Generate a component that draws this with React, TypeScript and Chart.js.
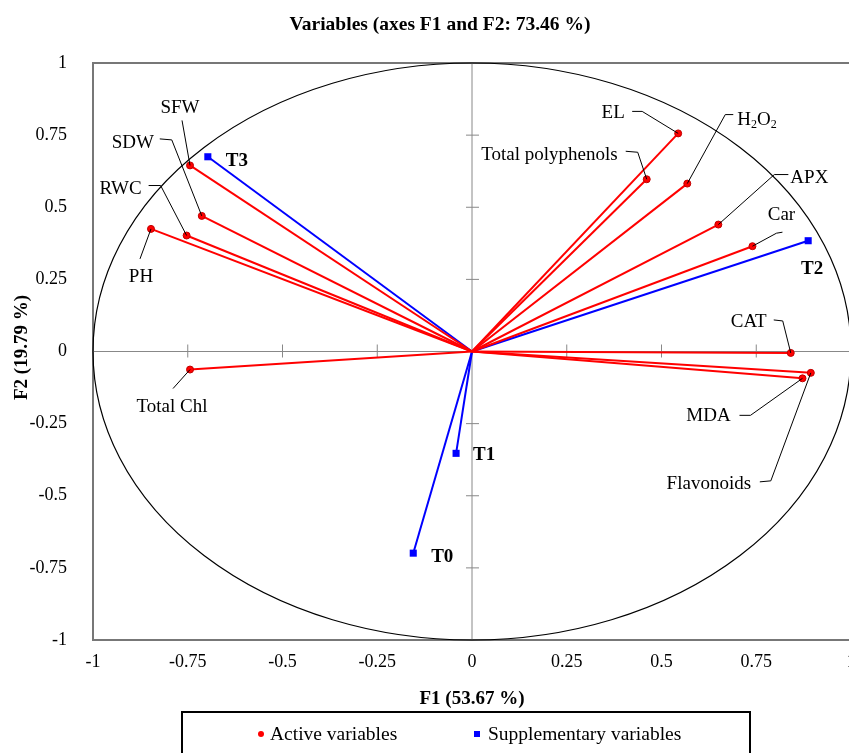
import { useEffect, useRef } from 'react';
import { Chart, registerables } from 'chart.js';

Chart.register(...registerables);

const TITLE = 'Variables (axes F1 and F2: 73.46 %)';
const X_TITLE = 'F1 (53.67 %)';
const Y_TITLE = 'F2 (19.79 %)';
const AXIS_TICKS = [-1, -0.75, -0.5, -0.25, 0, 0.25, 0.5, 0.75, 1];

const ACTIVE_NAMES = ['EL', 'Total polyphenols', 'H2O2', 'APX', 'Car', 'CAT', 'Flavonoids', 'MDA', 'SFW', 'SDW', 'RWC', 'PH', 'Total Chl'];
const ACTIVE_F1 = [0.544, 0.461, 0.568, 0.65, 0.74, 0.841, 0.894, 0.872, -0.744, -0.713, -0.753, -0.847, -0.744];
const ACTIVE_F2 = [0.756, 0.597, 0.582, 0.44, 0.365, -0.005, -0.074, -0.093, 0.645, 0.47, 0.402, 0.425, -0.0625];

const SUPP_NAMES = ['T0', 'T1', 'T2', 'T3'];
const SUPP_F1 = [-0.155, -0.042, 0.887, -0.697];
const SUPP_F2 = [-0.699, -0.353, 0.384, 0.675];

const LEGEND_LABELS = ['Active variables', 'Supplementary variables'];

// label placement (pixel offsets from the point), styling only
type Lay = { dx: number; dy: number; align: CanvasTextAlign; leader?: number[][] };
const LABEL_LAYOUT: Record<string, Lay> = {
  EL: { dx: -65, dy: -20, align: 'center', leader: [[-46, -22], [-36, -22]] },
  'Total polyphenols': { dx: -29, dy: -24, align: 'right', leader: [[-21, -28], [-9, -27]] },
  H2O2: { dx: 50, dy: -64, align: 'left', leader: [[46, -69], [38, -69]] },
  APX: { dx: 72, dy: -47, align: 'left', leader: [[70, -50], [56, -50]] },
  Car: { dx: 29, dy: -31, align: 'center', leader: [[30, -14], [24, -13]] },
  CAT: { dx: -42, dy: -31, align: 'center', leader: [[-17, -33], [-8, -32]] },
  Flavonoids: { dx: -102, dy: 111, align: 'center', leader: [[-51, 109], [-40, 108]] },
  MDA: { dx: -94, dy: 38, align: 'center', leader: [[-63, 37], [-52, 37]] },
  SFW: { dx: -10, dy: -57, align: 'center', leader: [[-8, -45]] },
  SDW: { dx: -69, dy: -73, align: 'center', leader: [[-42, -77], [-30, -76]] },
  RWC: { dx: -66, dy: -47, align: 'center', leader: [[-38, -50], [-26, -50]] },
  PH: { dx: -10, dy: 48, align: 'center', leader: [[-11, 30]] },
  'Total Chl': { dx: -18, dy: 37, align: 'center', leader: [[-17, 19]] },
  T0: { dx: 29, dy: 4, align: 'center' },
  T1: { dx: 28, dy: 2, align: 'center' },
  T2: { dx: 4, dy: 28, align: 'center' },
  T3: { dx: 29, dy: 4, align: 'center' },
};

const SERIF = "'Liberation Serif', 'Times New Roman', serif";
const RED = '#ff0000';
const BLUE = '#0000ff';

function drawLabelText(ctx: CanvasRenderingContext2D, text: string, x: number, y: number, align: CanvasTextAlign, bold: boolean) {
  const size = 19;
  ctx.font = `${bold ? 'bold ' : ''}${size}px ${SERIF}`;
  ctx.fillStyle = '#000';
  ctx.textBaseline = 'middle';
  if (text === 'H2O2') {
    const parts: [string, boolean][] = [['H', false], ['2', true], ['O', false], ['2', true]];
    const subFont = `${Math.round(size * 0.62)}px ${SERIF}`;
    const mainFont = `${size}px ${SERIF}`;
    let total = 0;
    for (const [t, sub] of parts) {
      ctx.font = sub ? subFont : mainFont;
      total += ctx.measureText(t).width;
    }
    let cx = align === 'left' ? x : align === 'right' ? x - total : x - total / 2;
    ctx.textAlign = 'left';
    for (const [t, sub] of parts) {
      ctx.font = sub ? subFont : mainFont;
      ctx.fillText(t, cx, sub ? y + 5 : y);
      cx += ctx.measureText(t).width;
    }
    return;
  }
  ctx.textAlign = align;
  ctx.fillText(text, x, y);
}

const decorPlugin = {
  id: 'decor',
  beforeDatasetsDraw(chart: any) {
    const { ctx, chartArea: a, scales } = chart;
    const xs = scales.x;
    const ys = scales.y;
    const x0 = xs.getPixelForValue(0);
    const y0 = ys.getPixelForValue(0);
    ctx.save();
    // frame
    ctx.strokeStyle = '#777';
    ctx.lineWidth = 2;
    ctx.strokeRect(a.left, a.top, a.right - a.left, a.bottom - a.top);
    // zero lines
    ctx.strokeStyle = '#888';
    ctx.lineWidth = 1;
    ctx.beginPath();
    ctx.moveTo(a.left, y0);
    ctx.lineTo(a.right, y0);
    ctx.moveTo(x0, a.top);
    ctx.lineTo(x0, a.bottom);
    for (const v of AXIS_TICKS) {
      if (v === 0 || Math.abs(v) === 1) continue;
      const px = xs.getPixelForValue(v);
      ctx.moveTo(px, y0 - 7);
      ctx.lineTo(px, y0 + 6);
      const py = ys.getPixelForValue(v);
      ctx.moveTo(x0 - 6, py);
      ctx.lineTo(x0 + 7, py);
    }
    ctx.stroke();
    // correlation circle
    const rx = xs.getPixelForValue(1) - x0;
    const ry = y0 - ys.getPixelForValue(1);
    ctx.strokeStyle = '#000';
    ctx.lineWidth = 1.2;
    ctx.beginPath();
    ctx.ellipse(x0, y0, rx, ry, 0, 0, Math.PI * 2);
    ctx.stroke();
    ctx.restore();
  },
  afterDatasetsDraw(chart: any) {
    const { ctx, chartArea: a, scales } = chart;
    const xs = scales.x;
    const ys = scales.y;
    ctx.save();
    const all: { name: string; x: number; y: number; bold: boolean }[] = [];
    ACTIVE_NAMES.forEach((n, i) => all.push({ name: n, x: ACTIVE_F1[i], y: ACTIVE_F2[i], bold: false }));
    SUPP_NAMES.forEach((n, i) => all.push({ name: n, x: SUPP_F1[i], y: SUPP_F2[i], bold: true }));
    for (const p of all) {
      const lay = LABEL_LAYOUT[p.name];
      if (!lay) continue;
      const px = xs.getPixelForValue(p.x);
      const py = ys.getPixelForValue(p.y);
      if (lay.leader) {
        ctx.strokeStyle = '#000';
        ctx.lineWidth = 1;
        ctx.beginPath();
        lay.leader.forEach(([dx, dy], k) => {
          if (k === 0) ctx.moveTo(px + dx, py + dy);
          else ctx.lineTo(px + dx, py + dy);
        });
        ctx.lineTo(px, py);
        ctx.stroke();
      }
      drawLabelText(ctx, p.name, px + lay.dx, py + lay.dy, lay.align, p.bold);
    }

    // title
    ctx.fillStyle = '#000';
    ctx.textBaseline = 'middle';
    ctx.textAlign = 'center';
    ctx.font = `bold 19.5px ${SERIF}`;
    ctx.fillText(TITLE, 440, 25);
    // axis titles
    const cx = (a.left + a.right) / 2;
    const cy = (a.top + a.bottom) / 2;
    ctx.font = `bold 19px ${SERIF}`;
    ctx.fillText(X_TITLE, cx, a.bottom + 59);
    ctx.save();
    ctx.translate(22, cy - 4);
    ctx.rotate(-Math.PI / 2);
    ctx.fillText(Y_TITLE, 0, 0);
    ctx.restore();

    // legend box
    ctx.strokeStyle = '#000';
    ctx.lineWidth = 2;
    ctx.strokeRect(182, a.bottom + 72, 568, 70);
    const ly = a.bottom + 95;
    ctx.font = `19.5px ${SERIF}`;
    ctx.textAlign = 'left';
    ctx.fillStyle = RED;
    ctx.beginPath();
    ctx.arc(261, ly - 1, 3, 0, Math.PI * 2);
    ctx.fill();
    ctx.fillStyle = '#000';
    ctx.fillText(LEGEND_LABELS[0], 270, ly);
    ctx.fillStyle = BLUE;
    ctx.fillRect(474, ly - 4, 6, 6);
    ctx.fillStyle = '#000';
    ctx.fillText(LEGEND_LABELS[1], 488, ly);
    ctx.restore();
  },
};

export default function App() {
  const ref = useRef<HTMLCanvasElement>(null);
  useEffect(() => {
    if (!ref.current) return;
    const datasets: any[] = [];
    ACTIVE_NAMES.forEach((n, i) => {
      datasets.push({
        label: n,
        data: [{ x: 0, y: 0 }, { x: ACTIVE_F1[i], y: ACTIVE_F2[i] }],
        showLine: true,
        borderColor: RED,
        borderWidth: 2,
        pointRadius: [0, 3.5],
        pointHoverRadius: [0, 3.5],
        pointBackgroundColor: RED,
        pointBorderColor: '#c00000',
        pointBorderWidth: 1,
      });
    });
    SUPP_NAMES.forEach((n, i) => {
      datasets.push({
        label: n,
        data: [{ x: 0, y: 0 }, { x: SUPP_F1[i], y: SUPP_F2[i] }],
        showLine: true,
        borderColor: BLUE,
        borderWidth: 2,
        pointStyle: 'rect',
        pointRadius: [0, 5],
        pointHoverRadius: [0, 5],
        pointBackgroundColor: BLUE,
        pointBorderColor: BLUE,
        pointBorderWidth: 0,
      });
    });
    const tickFont = { family: SERIF, size: 18 };
    const chart = new Chart(ref.current, {
      type: 'scatter',
      data: { datasets },
      options: {
        animation: false,
        responsive: false,
        devicePixelRatio: 1,
        layout: { padding: { top: 63, right: 15, left: 0, bottom: 0 } },
        plugins: { legend: { display: false }, tooltip: { enabled: false }, title: { display: false } },
        events: [],
        scales: {
          x: {
            type: 'linear',
            min: -1,
            max: 1,
            grid: { display: false },
            border: { display: false },
            afterBuildTicks: (s: any) => { s.ticks = AXIS_TICKS.map((v) => ({ value: v })); },
            afterFit: (s: any) => { s.height = 113; },
            ticks: { font: tickFont, color: '#000', padding: 3, maxRotation: 0, autoSkip: false, callback: (v: any) => String(v) },
          },
          y: {
            type: 'linear',
            min: -1,
            max: 1,
            grid: { display: false },
            border: { display: false },
            afterBuildTicks: (s: any) => { s.ticks = AXIS_TICKS.map((v) => ({ value: v })); },
            afterFit: (s: any) => { s.width = 93; },
            ticks: { font: tickFont, color: '#000', padding: 18, autoSkip: false, callback: (v: any) => String(v) },
          },
        },
      },
      plugins: [decorPlugin],
    });
    return () => chart.destroy();
  }, []);
  return (
    <div style={{ position: 'absolute', left: 0, top: 0, width: 849, height: 753, overflow: 'hidden', background: '#fff' }}>
      <canvas ref={ref} width={866} height={753} style={{ display: 'block', width: 866, height: 753 }} />
    </div>
  );
}
